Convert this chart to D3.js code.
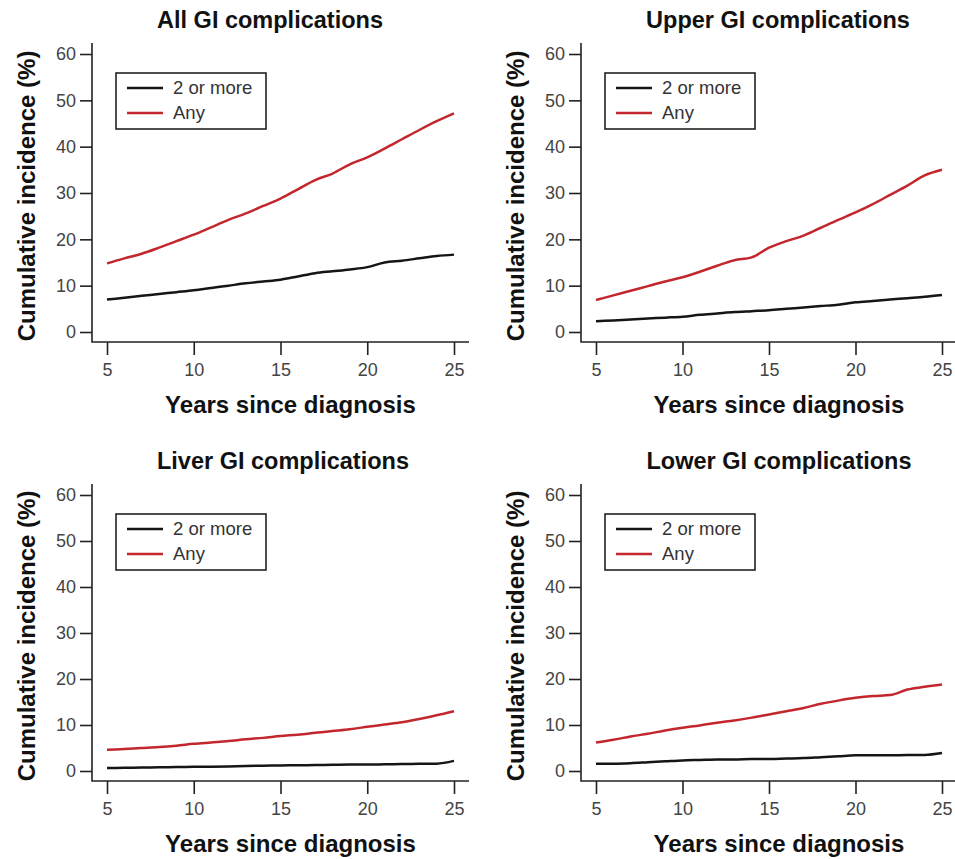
<!DOCTYPE html>
<html>
<head>
<meta charset="utf-8">
<script src="https://cdn.jsdelivr.net/npm/d3@7"></script>
<style>
  body { margin: 0; background: #fff; }
  svg text { font-family: "Liberation Sans", Arial, sans-serif; }
</style>
</head>
<body>
<div id="vis"></div>
<script>
// years on the x axis
const years = [5, 6, 7, 8, 9, 10, 11, 12, 13, 14, 15, 16, 17, 18, 19, 20, 21, 22, 23, 24, 25];

// cumulative incidence (%)
const allAny    = [14.8, 15.9, 16.9, 18.2, 19.6, 21.0, 22.6, 24.2, 25.6, 27.2, 28.8, 30.8, 32.8, 34.2, 36.2, 37.7, 39.6, 41.6, 43.6, 45.5, 47.2];
const allTwo    = [7.0, 7.4, 7.8, 8.2, 8.6, 9.0, 9.5, 10.0, 10.5, 10.9, 11.3, 12.0, 12.7, 13.1, 13.5, 14.0, 15.0, 15.4, 15.9, 16.4, 16.7];
const upperAny  = [6.9, 7.9, 8.9, 9.9, 10.9, 11.8, 13.0, 14.3, 15.5, 16.1, 18.2, 19.6, 20.8, 22.5, 24.2, 25.8, 27.6, 29.6, 31.6, 33.8, 35.0];
const upperTwo  = [2.3, 2.5, 2.7, 2.9, 3.1, 3.3, 3.7, 4.0, 4.3, 4.5, 4.7, 5.0, 5.3, 5.6, 5.9, 6.4, 6.7, 7.0, 7.3, 7.6, 8.0];
const liverAny  = [4.6, 4.8, 5.0, 5.2, 5.5, 5.9, 6.2, 6.5, 6.9, 7.2, 7.6, 7.9, 8.3, 8.7, 9.1, 9.6, 10.1, 10.6, 11.3, 12.1, 13.0];
const liverTwo  = [0.65, 0.7, 0.75, 0.8, 0.85, 0.9, 0.95, 1.0, 1.1, 1.15, 1.2, 1.25, 1.3, 1.35, 1.4, 1.4, 1.45, 1.5, 1.55, 1.6, 2.2];
const lowerAny  = [6.2, 6.8, 7.5, 8.1, 8.8, 9.4, 9.9, 10.5, 11.0, 11.6, 12.3, 13.0, 13.7, 14.6, 15.3, 15.9, 16.3, 16.5, 17.7, 18.3, 18.8];
const lowerTwo  = [1.6, 1.6, 1.7, 1.9, 2.1, 2.3, 2.4, 2.5, 2.5, 2.6, 2.6, 2.7, 2.8, 3.0, 3.2, 3.4, 3.4, 3.4, 3.5, 3.5, 3.9];

const titles = ["All GI complications", "Upper GI complications", "Liver GI complications", "Lower GI complications"];
const seriesNames = ["2 or more", "Any"];
const xTicks = [5, 10, 15, 20, 25];
const yTicks = [0, 10, 20, 30, 40, 50, 60];

const colors = { "2 or more": "#151515", "Any": "#c3272d" };

const width = 955, height = 859;

// panel placement: plotting area in pixels
const panels = [
  { title: titles[0], two: allTwo,   any: allAny,   x0: 107, x1: 454, y0: 332, y1: 54,  titleX: 270, yTitleX: 27 },
  { title: titles[1], two: upperTwo, any: upperAny, x0: 596, x1: 942, y0: 332, y1: 54,  titleX: 778, yTitleX: 516 },
  { title: titles[2], two: liverTwo, any: liverAny, x0: 107, x1: 454, y0: 771, y1: 495, titleX: 283, yTitleX: 27 },
  { title: titles[3], two: lowerTwo, any: lowerAny, x0: 596, x1: 942, y0: 771, y1: 495, titleX: 779, yTitleX: 516 }
];

const svg = d3.select('#vis')
  .append('svg')
  .attr('width', width)
  .attr('height', height);

panels.forEach(function (p) {
  const x = d3.scaleLinear().domain([5, 25]).range([p.x0, p.x1]);
  const y = d3.scaleLinear().domain([0, 60]).range([p.y0, p.y1]);

  const g = svg.append('g');

  // L-shaped frame, offset from the data range like R's base plots
  const left = p.x0 - 15, bottom = p.y0 + 10;
  const top = p.y1 - 11, right = Math.min(p.x1 + 15, width);
  g.append('path')
    .attr('d', `M${left},${top}V${bottom}H${right}`)
    .attr('fill', 'none')
    .attr('stroke', '#222')
    .attr('stroke-width', 1.6);

  // y axis ticks
  const yAxis = d3.axisLeft(y).tickValues(yTicks).tickSize(12).tickSizeOuter(0).tickPadding(4);
  const ya = g.append('g').attr('transform', `translate(${left},0)`).call(yAxis);
  ya.select('.domain').remove();
  ya.selectAll('line').attr('stroke', '#222').attr('stroke-width', 1.6);
  ya.selectAll('text').attr('font-size', 18).attr('fill', '#444')
    .style('font-family', '"Liberation Sans", Arial, sans-serif');

  // x axis ticks
  const xAxis = d3.axisBottom(x).tickValues(xTicks).tickSize(13).tickSizeOuter(0).tickPadding(8);
  const xa = g.append('g').attr('transform', `translate(0,${bottom})`).call(xAxis);
  xa.select('.domain').remove();
  xa.selectAll('line').attr('stroke', '#222').attr('stroke-width', 1.6);
  xa.selectAll('text').attr('font-size', 18).attr('fill', '#444')
    .style('font-family', '"Liberation Sans", Arial, sans-serif');

  // titles
  g.append('text')
    .attr('x', p.titleX).attr('y', p.y1 - 26)
    .attr('text-anchor', 'middle')
    .attr('font-size', 23.5).attr('font-weight', 'bold').attr('fill', '#111')
    .text(p.title);

  g.append('text')
    .attr('x', (p.x0 + p.x1) / 2 + 10).attr('y', bottom + 71)
    .attr('text-anchor', 'middle')
    .attr('font-size', 24).attr('font-weight', 'bold').attr('fill', '#111')
    .text('Years since diagnosis');

  g.append('text')
    .attr('transform', `translate(${p.yTitleX},${(p.y0 + p.y1) / 2 + 3}) rotate(-90)`)
    .attr('text-anchor', 'middle')
    .attr('dy', '0.35em')
    .attr('font-size', 24).attr('font-weight', 'bold').attr('fill', '#111')
    .text('Cumulative incidence (%)');

  // lines
  const line = d3.line()
    .x(function (d) { return x(d.year); })
    .y(function (d) { return y(d.value); })
    .curve(d3.curveMonotoneX);

  [['2 or more', p.two], ['Any', p.any]].forEach(function (s) {
    const pts = years.map(function (yr, i) { return { year: yr, value: s[1][i] }; });
    g.append('path')
      .datum(pts)
      .attr('d', line)
      .attr('fill', 'none')
      .attr('stroke', colors[s[0]])
      .attr('stroke-width', 2.5);
  });

  // legend box
  const lx = left + 24, ly = y(60) + 19;
  const leg = g.append('g').attr('transform', `translate(${lx},${ly})`);
  leg.append('rect')
    .attr('width', 150).attr('height', 56)
    .attr('fill', '#fff').attr('stroke', '#222').attr('stroke-width', 1.6);
  seriesNames.forEach(function (name, i) {
    const cy = 15 + i * 25;
    leg.append('line')
      .attr('x1', 11).attr('x2', 47).attr('y1', cy).attr('y2', cy)
      .attr('stroke', colors[name]).attr('stroke-width', 2.4);
    leg.append('text')
      .attr('x', 57).attr('y', cy).attr('dy', '0.35em')
      .attr('font-size', 18.5).attr('fill', '#333')
      .text(name);
  });
});
</script>
</body>
</html>
